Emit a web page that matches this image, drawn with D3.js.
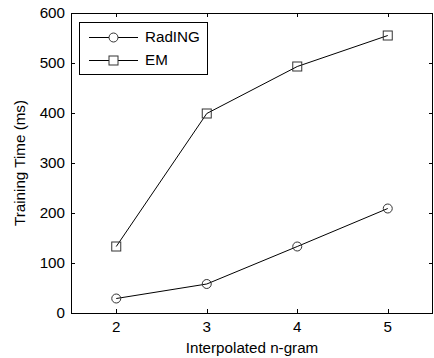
<!DOCTYPE html>
<html><head><meta charset="utf-8">
<script src="https://cdn.jsdelivr.net/npm/d3@7"></script>
<style>body{margin:0;background:#fff}svg{display:block}text{font-family:"Liberation Sans",Arial,sans-serif;fill:#000}</style>
</head><body><svg id="c" width="434" height="358"></svg>
<script>
const categories = [2, 3, 4, 5];
const radING = [29, 58, 133, 209];
const em = [133, 399, 493, 555];
const yTicks = [0, 100, 200, 300, 400, 500, 600];
const seriesNames = ["RadING", "EM"];

const svg = d3.select("#c");
const L = 71, R = 433, T = 13, B = 313;
const x = d3.scaleLinear().domain([1.5, 5.5]).range([L, R]);
const y = d3.scaleLinear().domain([0, 600]).range([B, T]);
const fs = "15.2px";

const g = svg.append("g");
const tl = 4;
categories.forEach(c => {
  const px = Math.round(x(c)) + 0.5;
  g.append("line").attr("x1", px).attr("x2", px).attr("y1", B).attr("y2", B - tl).attr("stroke", "#000");
  g.append("line").attr("x1", px).attr("x2", px).attr("y1", T).attr("y2", T + tl).attr("stroke", "#000");
  g.append("text").attr("x", x(c)).attr("y", B + 19).attr("text-anchor", "middle").style("font-size", fs).text(c);
});
yTicks.forEach(v => {
  const py = Math.round(y(v)) + 0.5;
  g.append("line").attr("x1", L).attr("x2", L + tl).attr("y1", py).attr("y2", py).attr("stroke", "#000");
  g.append("line").attr("x1", R).attr("x2", R - tl).attr("y1", py).attr("y2", py).attr("stroke", "#000");
  g.append("text").attr("x", L - 6).attr("y", y(v) + 5).attr("text-anchor", "end").style("font-size", fs).text(v);
});
g.append("rect").attr("x", L + 0.5).attr("y", T + 0.5).attr("width", R - L - 1).attr("height", B - T)
  .attr("fill", "none").attr("stroke", "#000").attr("stroke-width", 1);

const line = d3.line().x((d, i) => x(categories[i])).y(d => y(d));
[radING, em].forEach((s, k) => {
  svg.append("path").datum(s).attr("d", line).attr("fill", "none").attr("stroke", "#000").attr("stroke-width", 1);
  s.forEach((v, i) => {
    if (k === 0) svg.append("circle").attr("cx", x(categories[i])).attr("cy", y(v)).attr("r", 4.5)
      .attr("fill", "none").attr("stroke", "#333").attr("stroke-width", 1);
    else svg.append("rect").attr("x", x(categories[i]) - 4.5).attr("y", y(v) - 4.5).attr("width", 9).attr("height", 9)
      .attr("fill", "none").attr("stroke", "#333").attr("stroke-width", 1);
  });
});

const lg = svg.append("g");
lg.append("rect").attr("x", 79.5).attr("y", 22.5).attr("width", 128).attr("height", 52).attr("fill", "#fff").attr("stroke", "#000");
seriesNames.forEach((n, k) => {
  const ly = k === 0 ? 37 : 60;
  lg.append("line").attr("x1", 89).attr("x2", 138).attr("y1", ly + 0.5).attr("y2", ly + 0.5).attr("stroke", "#000");
  if (k === 0) lg.append("circle").attr("cx", 113.5).attr("cy", ly + 0.5).attr("r", 4.5).attr("fill", "#fff").attr("stroke", "#333");
  else lg.append("rect").attr("x", 109).attr("y", ly - 4).attr("width", 9).attr("height", 9).attr("fill", "#fff").attr("stroke", "#333");
  lg.append("text").attr("x", 145).attr("y", ly + 5).style("font-size", fs).text(n);
});

svg.append("text").attr("x", (L + R) / 2).attr("y", 353).attr("text-anchor", "middle").style("font-size", fs).text("Interpolated n-gram");
svg.append("text").attr("transform", `translate(25,${(T + B) / 2}) rotate(-90)`).attr("text-anchor", "middle").style("font-size", fs).text("Training Time (ms)");
</script></body></html>
